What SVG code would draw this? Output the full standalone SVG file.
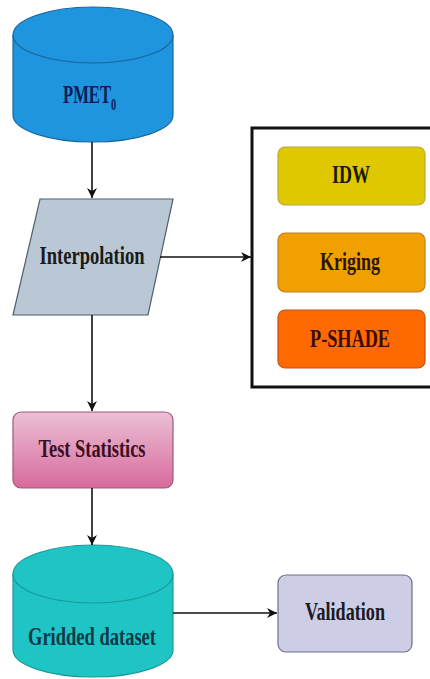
<svg xmlns="http://www.w3.org/2000/svg" width="430" height="679" viewBox="0 0 430 679">
<defs>
<marker id="arr" viewBox="0 0 10 10" refX="10" refY="5" markerWidth="10" markerHeight="10" markerUnits="userSpaceOnUse" orient="auto">
<path d="M0,0 L10,5 L0,10 L3,5 Z" fill="#111"/>
</marker>
<linearGradient id="pink" x1="0" y1="0" x2="0" y2="1">
<stop offset="0" stop-color="#ecc0d6"/>
<stop offset="1" stop-color="#d86a9c"/>
</linearGradient>
<style>
.lbl{font-family:"Liberation Serif","Times New Roman",serif;font-weight:bold;font-size:26px;text-anchor:middle}
.con{fill:none;stroke:#111;stroke-width:1.6}
</style>
</defs>
<rect width="430" height="679" fill="#ffffff"/>

<g id="pmet0">
<path d="M13,35 L13,115 A80,27 0 0 0 173,115 L173,35 A80,28 0 0 0 13,35 Z" fill="#1e95de" stroke="#1a679c" stroke-width="1.2"/>
<path d="M13,35 A80,28 0 0 0 173,35" fill="none" stroke="#1a679c" stroke-width="1.2"/>
<text class="lbl" style="text-anchor:start" fill="#0c1d57" transform="translate(63,103) scale(0.64,1)">PMET<tspan font-size="16" dy="7">0</tspan></text>
</g>

<g id="interpolation">
<polygon points="40,199 173,199 148,315 13,315" fill="#b9c8d4" stroke="#4f5f6c" stroke-width="1.2"/>
<text class="lbl" x="92" y="264" fill="#1a1a1a" textLength="105" lengthAdjust="spacingAndGlyphs">Interpolation</text>
</g>

<g id="methods">
<rect x="252" y="128" width="180" height="259" fill="#ffffff" stroke="#111" stroke-width="3"/>
</g>

<g id="idw">
<rect x="278" y="147" width="147" height="58" rx="7" fill="#e0c800" stroke="#b8a838" stroke-width="1.2"/>
<text class="lbl" x="351" y="183" fill="#1a1a00" font-size="27" textLength="38" lengthAdjust="spacingAndGlyphs">IDW</text>
</g>

<g id="kriging">
<rect x="278" y="233" width="147" height="59" rx="7" fill="#f0a000" stroke="#c08020" stroke-width="1.2"/>
<text class="lbl" x="350" y="270" fill="#2a1600" font-size="27" textLength="60" lengthAdjust="spacingAndGlyphs">Kriging</text>
</g>

<g id="pshade">
<rect x="278" y="310" width="147" height="58" rx="7" fill="#ff6a00" stroke="#c85010" stroke-width="1.2"/>
<text class="lbl" x="350" y="347" fill="#3a0c00" font-size="27" textLength="80" lengthAdjust="spacingAndGlyphs">P-SHADE</text>
</g>

<g id="test-statistics">
<rect x="13" y="412" width="160" height="76" rx="8" fill="url(#pink)" stroke="#a0587a" stroke-width="1.2"/>
<text class="lbl" x="92" y="457" fill="#3a0f22" font-size="27" textLength="107" lengthAdjust="spacingAndGlyphs">Test Statistics</text>
</g>

<g id="gridded-dataset">
<path d="M13,574 L13,650 A80,27 0 0 0 173,650 L173,574 A80,29 0 0 0 13,574 Z" fill="#1fc4c4" stroke="#1a9a9a" stroke-width="1.2"/>
<path d="M13,574 A80,29 0 0 0 173,574" fill="none" stroke="#1a9a9a" stroke-width="1.2"/>
<text class="lbl" x="92" y="645" fill="#0b3a48" textLength="128" lengthAdjust="spacingAndGlyphs">Gridded dataset</text>
</g>

<g id="validation">
<rect x="278" y="575" width="134" height="77" rx="8" fill="#cdcde6" stroke="#6e6e8c" stroke-width="1.2"/>
<text class="lbl" x="345" y="620" fill="#1a1a22" textLength="80" lengthAdjust="spacingAndGlyphs">Validation</text>
</g>

<g id="connectors">
<line class="con" x1="92" y1="142" x2="92" y2="198" marker-end="url(#arr)"/>
<line class="con" x1="160" y1="257" x2="251" y2="257" marker-end="url(#arr)"/>
<line class="con" x1="92" y1="315" x2="92" y2="411" marker-end="url(#arr)"/>
<line class="con" x1="92" y1="488" x2="92" y2="545" marker-end="url(#arr)"/>
<line class="con" x1="173" y1="613" x2="277" y2="613" marker-end="url(#arr)"/>
</g>
</svg>
